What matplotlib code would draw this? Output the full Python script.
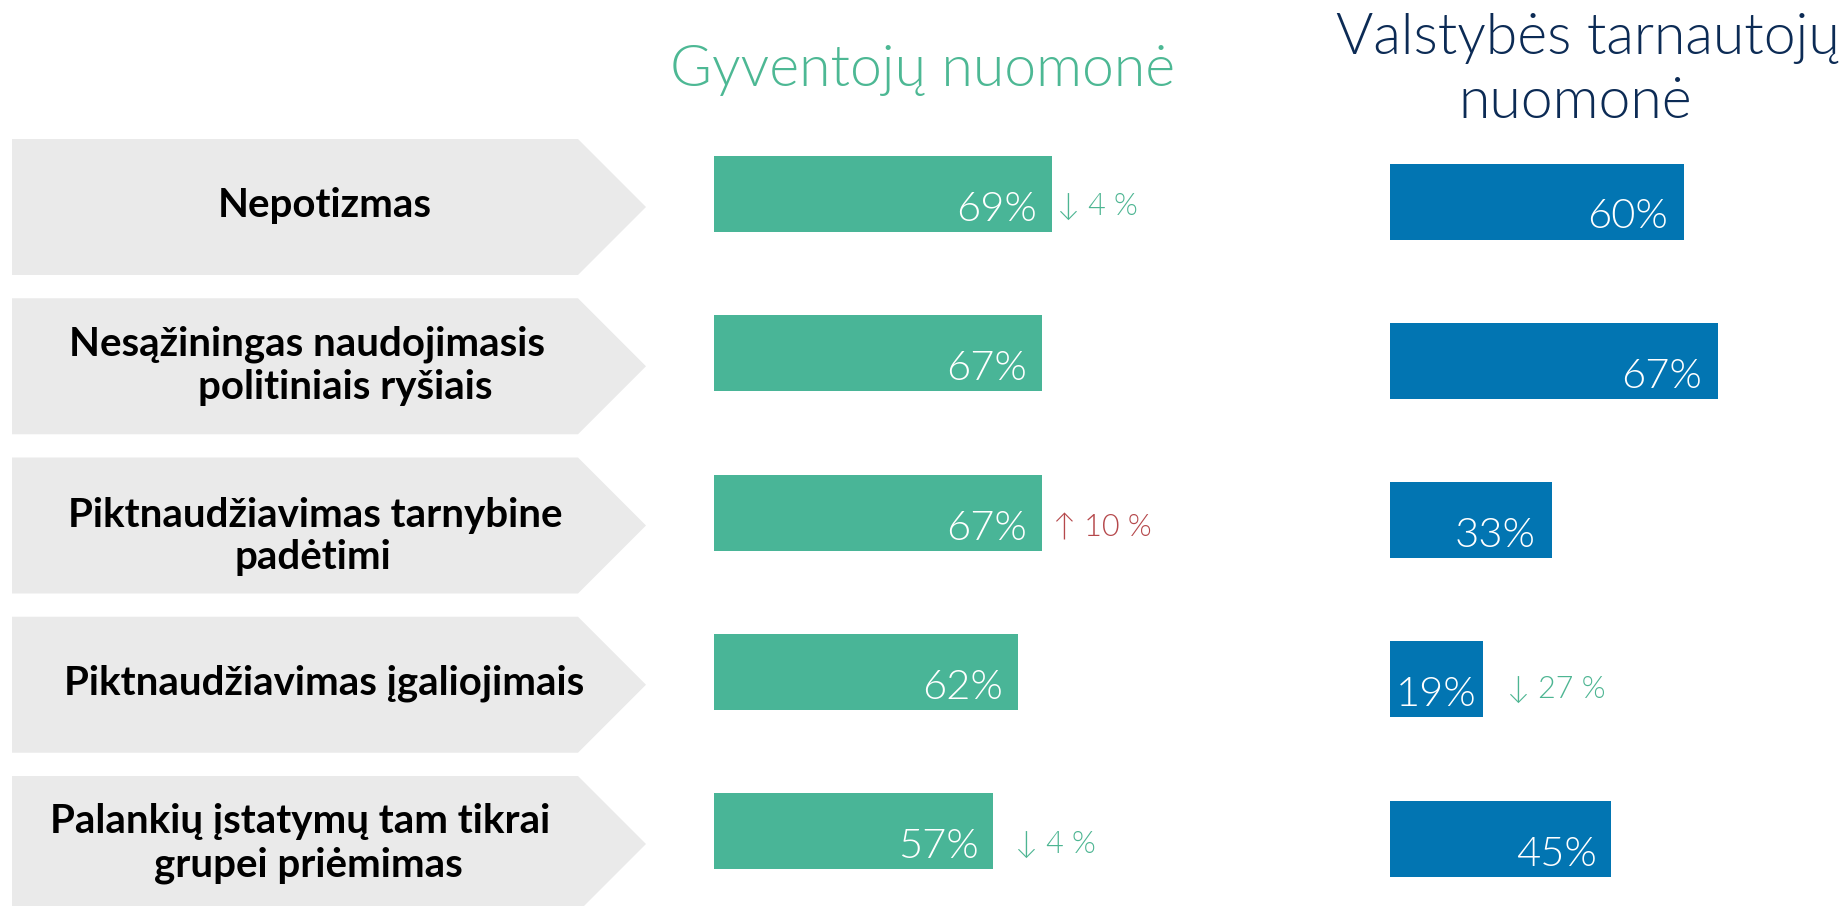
import matplotlib
matplotlib.use("Agg")
import matplotlib.pyplot as plt
from matplotlib.patches import Polygon

# ---------------- data ----------------
categories = [
    "Nepotizmas",
    "Nesąžiningas naudojimasis\npolitiniais ryšiais",
    "Piktnaudžiavimas tarnybine\npadėtimi",
    "Piktnaudžiavimas įgaliojimais",
    "Palankių įstatymų tam tikrai\ngrupei priėmimas",
]
gyventoju = [69, 67, 67, 62, 57]
tarnautoju = [60, 67, 33, 19, 45]
gyventoju_change = [-4, None, 10, None, -4]
tarnautoju_change = [None, None, None, -27, None]
title_left = "Gyventojų nuomonė"
title_right_lines = ["Valstybės tarnautojų", "nuomonė"]

# ---------------- style / layout ----------------
W, H = 1845, 906
GREEN = "#49B597"
BLUE = "#0275B2"
GREY = "#EAEAEA"
NAVY = "#0C2B55"
UP_RED = "#B5484B"
DOWN_GREEN = "#4DB592"
FONT = ["Lato", "DejaVu Sans"]
THIN = 300

row_step = 159.25
green_y = [194 + i * row_step for i in range(5)]
blue_y = [y + 7.5 for y in green_y]
grey_y = [y + 13 for y in green_y]
bar_h = 76
px_per_pct = 4.9

# label line placement (centre x, baseline offset from grey centre)
label_cx = [[325], [307, 345], [315, 313], [324], [300, 308]]
label_dy = [[10], [-11, 33], [1, 44], [10], [-11, 33]]
# value label right padding inside bar
g_pad = [15, 15, 15, 15, 15]
b_pad = [16, 16, 16, 7, 14]
# change annotation gap (px) after bar end and baseline offset above bar bottom
g_gap = [5, 0, 11, 0, 22]
g_dy = [17, 0, 14, 0, 16]
b_gap = [0, 0, 0, 24, 0]
b_dy = [0, 0, 0, 19, 0]

fig = plt.figure(figsize=(W / 100, H / 100), dpi=100)

# background axes in pixel coordinates
bg = fig.add_axes([0, 0, 1, 1])
bg.set_xlim(0, W)
bg.set_ylim(H, 0)
bg.axis("off")

for i, cat in enumerate(categories):
    cy = grey_y[i]
    top, bot = cy - 68, cy + 68
    poly = Polygon([(12, top), (578, top), (646, cy), (578, bot), (12, bot)],
                   closed=True, facecolor=GREY, edgecolor="none")
    bg.add_patch(poly)
    for j, line in enumerate(cat.split("\n")):
        bg.text(label_cx[i][j], cy + label_dy[i][j], line, ha="center", va="baseline",
                fontsize=29, fontweight="bold", color="black", family=FONT)

bg.text(923, 86, title_left, ha="center", va="baseline", fontsize=41,
        fontweight=THIN, color="#4DB894", family=FONT)
bg.text(1840, 54, title_right_lines[0], ha="right", va="baseline", fontsize=41,
        fontweight=THIN, color=NAVY, family=FONT)
bg.text(1575, 118, title_right_lines[1], ha="center", va="baseline", fontsize=41,
        fontweight=THIN, color=NAVY, family=FONT)


def bar_panel(left_px, width_px, ys, values, pads, changes, gaps, dys, color):
    ax = fig.add_axes([left_px / W, 0, width_px / W, 1])
    ax.set_xlim(0, width_px / px_per_pct)
    ax.set_ylim(H, 0)
    ax.axis("off")
    ax.patch.set_visible(False)
    ax.barh(ys, values, height=bar_h, color=color, left=0)
    for i, (y, v) in enumerate(zip(ys, values)):
        ax.annotate(f"{v}%", xy=(v, y + bar_h / 2), xytext=(-pads[i], 11),
                    textcoords="offset pixels", ha="right", va="baseline",
                    fontsize=30, fontweight=THIN, color="white", family=FONT)
        d = changes[i]
        if d is not None:
            arrow = "↑" if d > 0 else "↓"
            col = UP_RED if d > 0 else DOWN_GREEN
            ax.annotate(f"{arrow} {abs(d)} %", xy=(v, y + bar_h / 2),
                        xytext=(gaps[i], dys[i]), textcoords="offset pixels",
                        ha="left", va="baseline", fontsize=22,
                        fontweight=THIN, color=col, family=FONT,
                        annotation_clip=False)
    return ax


bar_panel(714, 490, green_y, gyventoju, g_pad, gyventoju_change, g_gap, g_dy, GREEN)
bar_panel(1390, 455, blue_y, tarnautoju, b_pad, tarnautoju_change, b_gap, b_dy, BLUE)

fig.savefig("out.png", dpi=100, facecolor="white")
